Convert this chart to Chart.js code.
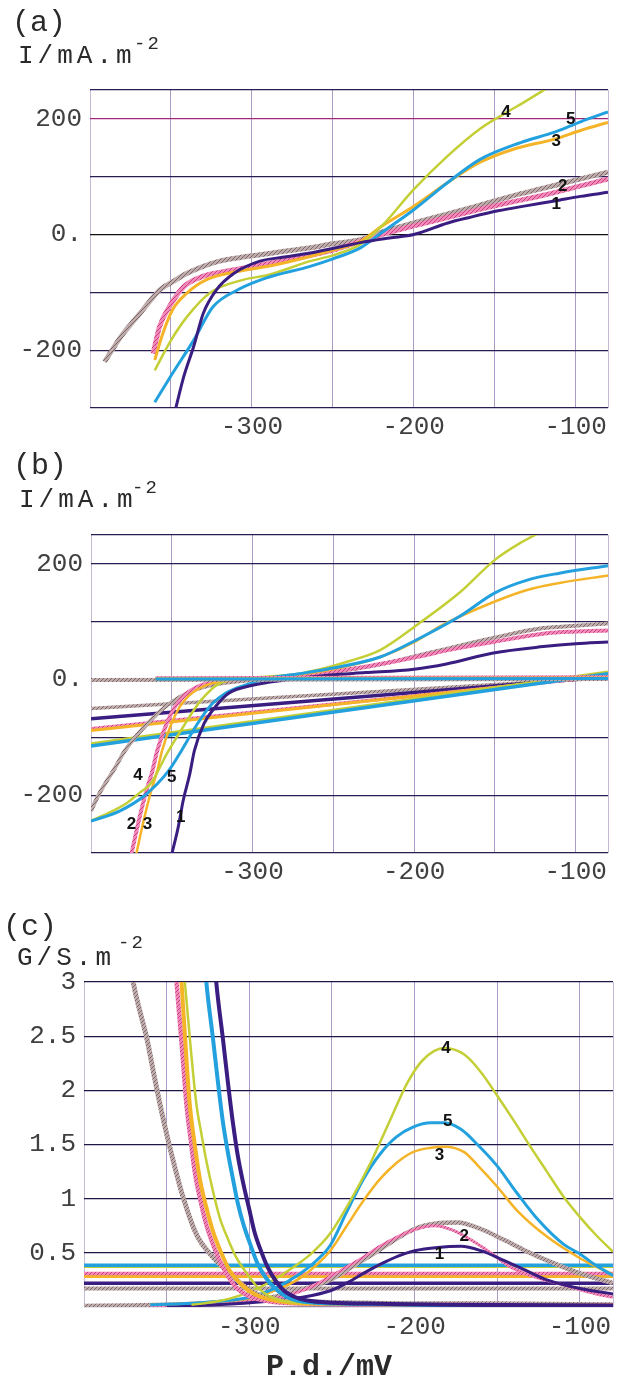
<!DOCTYPE html>
<html>
<head>
<meta charset="utf-8">
<title>Current and conductance vs p.d.</title>
<script src="https://cdn.jsdelivr.net/npm/chart.js@4.4.1/dist/chart.umd.min.js"></script>
<style>
  html, body { margin: 0; padding: 0; background: #fff; }
  body { position: relative; width: 624px; height: 1385px; overflow: hidden;
         font-family: "Liberation Mono", "DejaVu Sans Mono", monospace; color: #2a2a2a; }
  canvas { position: absolute; left: 0; }
  .txt { position: absolute; line-height: 1; white-space: nowrap; }
  .tag { font-size: 30px; }
  .unit { font-size: 26px; letter-spacing: 4px; }
  .sup { font-size: 19px; letter-spacing: 2px; }
  .xname { font-size: 30px; font-weight: bold; }
</style>
</head>
<body>
<canvas id="cha" width="624" height="450" style="top:0"></canvas>
<canvas id="chb" width="624" height="450" style="top:450px"></canvas>
<canvas id="chc" width="624" height="485" style="top:900px"></canvas>

<div class="txt tag" style="left:12px;top:8px">(a)</div>
<div class="txt unit" style="left:18px;top:43px">I/mA.m</div>
<div class="txt sup" style="left:134px;top:35px">-2</div>

<div class="txt tag" style="left:13px;top:451px">(b)</div>
<div class="txt unit" style="left:19px;top:487px">I/mA.m</div>
<div class="txt sup" style="left:132px;top:479px">-2</div>

<div class="txt tag" style="left:3px;top:912px">(c)</div>
<div class="txt unit" style="left:17px;top:945px">G/S.m</div>
<div class="txt sup" style="left:118px;top:934px">-2</div>

<div class="txt xname" style="left:266px;top:1352px">P.d./mV</div>

<script>
// axis ticks
const xTicks = [-400, -350, -300, -250, -200, -150, -100, -80];
const xTickText = ['', '', '-300', '', '-200', '', '-100', ''];
const iTicks = [-300, -200, -100, 0, 100, 200, 250];
const iTickText = ['', '-200', '', '0.', '', '200', ''];
const gTicks = [0, 0.5, 1, 1.5, 2, 2.5, 3];
const gTickText = ['', '0.5', '1', '1.5', '2', '2.5', '3'];

// (a) current, curves 1-5 and the grey reference
const aX1 = [-347, -342, -336, -330, -322, -311, -295, -280, -264, -250, -233, -215, -200, -179, -165, -148, -130, -113, -97, -80];
const aY1 = [-300, -245, -194, -136, -96, -67, -46, -39, -32, -24, -14, -6, 0, 20, 30, 41, 50, 58, 66, 73];
const aX2 = [-361, -357, -351, -342, -330, -311, -295, -280, -264, -250, -233, -220, -200, -180, -160, -140, -120, -100, -80];
const aY2 = [-206, -159, -125, -90, -72, -61, -53, -45, -36, -27, -12, 0, 15, 29, 43, 56, 68, 82, 96];
const aXg = [-391, -386, -381, -375, -369, -363, -357, -348, -340, -330, -320, -308, -295, -280, -264, -250, -233, -220, -200, -180, -160, -140, -120, -100, -80];
const aYg = [-220, -198, -177, -156, -136, -115, -96, -80, -67, -55, -46, -40, -35, -29, -23, -16, -9, 4, 20, 35, 50, 66, 80, 94, 108];
const aX3 = [-360, -355, -349, -340, -328, -309, -290, -264, -250, -233, -220, -200, -179, -159, -138, -113, -97, -80];
const aY3 = [-217, -171, -130, -101, -78, -64, -55, -38, -27, -12, 14, 49, 90, 125, 148, 165, 180, 194];
const aX4 = [-360, -350, -340, -326, -305, -290, -264, -250, -233, -220, -200, -179, -159, -144, -130, -116];
const aY4 = [-235, -183, -142, -101, -78, -70, -46, -36, -17, 14, 78, 136, 183, 209, 232, 256];
const aX5 = [-360, -349, -336, -324, -309, -291, -264, -250, -233, -220, -200, -179, -159, -134, -113, -97, -80];
const aY5 = [-290, -240, -183, -125, -96, -75, -55, -42, -23, 3, 43, 90, 130, 159, 177, 195, 212];

// (b) current components
const bX1 = [-350, -346, -343, -339, -336, -330, -323, -315, -300, -280, -252, -230, -200, -180, -151, -120, -100, -80];
const bY1 = [-302, -255, -210, -165, -123, -76, -47, -24, -10, -1, 8, 12, 18, 27, 46, 57, 62, 65];
const bX2 = [-375, -370, -366, -362, -359, -354, -348, -342, -332, -320, -300, -280, -252, -230, -200, -175, -151, -118, -100, -80];
const bY2 = [-302, -239, -195, -158, -123, -82, -47, -27, -10, -3, 1, 4, 13, 22, 38, 53, 65, 80, 83, 85];
const bXg = [-400, -395, -385, -379, -367, -354, -345, -335, -320, -300, -271, -252, -234, -215, -200, -180, -151, -120, -100, -80];
const bYg = [-227, -198, -152, -123, -82, -47, -30, -17, -7, -1, 4, 12, 20, 30, 40, 53, 72, 89, 93, 97];
const bX3 = [-372, -367, -363, -359, -356, -351, -345, -339, -329, -317, -300, -280, -252, -221, -199, -184, -150, -130, -110, -80];
const bY3 = [-302, -239, -195, -158, -123, -82, -47, -27, -10, -3, 2, 6, 17, 39, 66, 92, 135, 155, 167, 180];
const bX4 = [-400, -390, -378, -370, -363, -353, -343, -332, -320, -300, -271, -252, -240, -221, -197, -172, -150, -135, -121];
const bY4 = [-244, -232, -214, -196, -180, -128, -82, -36, -6, 3, 10, 22, 32, 51, 97, 150, 207, 235, 256];
const bX5 = [-400, -382, -367, -352, -344, -334, -325, -317, -305, -290, -271, -252, -221, -199, -172, -150, -130, -110, -80];
const bY5 = [-245, -227, -201, -158, -123, -76, -42, -24, -10, 2, 10, 19, 39, 68, 109, 150, 172, 184, 197];
// straight components, values at the two ends
const bLineX = [-400, -80];
const bSlope1 = [-68, 5], bSlope2 = [-85, 6], bSlopeG = [-50, 3];
const bSlope3 = [-88, 7], bSlope4 = [-111, 13], bSlope5 = [-115, 10];
const bFlatX = [-360, -80], bFlatXg = [-400, -80];
const bFlat1 = [1, 2], bFlat2 = [3, 5], bFlatG = [-1, 1];
const bFlat3 = [2, 3], bFlat4 = [1, 2], bFlat5 = [1, 2];

// (c) conductance: steep branch, bell, constant level
const cSX1 = [-321, -320, -316, -313, -310, -307, -303.5, -300, -297, -293, -289, -284, -279, -272, -265, -250, -220, -180, -80];
const cSY1 = [3.2, 3.0, 2.48, 2.08, 1.71, 1.40, 1.13, 0.90, 0.70, 0.52, 0.37, 0.24, 0.15, 0.09, 0.06, 0.04, 0.03, 0.02, 0.015];
const cSX2 = [-345, -344, -342, -340, -338, -335.5, -333, -329.5, -326, -322, -318, -313, -308, -300, -291, -280, -260, -230, -200, -150, -80];
const cSY2 = [3.2, 3.0, 2.63, 2.25, 1.87, 1.55, 1.25, 0.98, 0.76, 0.58, 0.43, 0.29, 0.18, 0.10, 0.06, 0.04, 0.03, 0.025, 0.02, 0.018, 0.016];
const cSXg = [-372, -370, -366, -362, -358, -354, -348, -340, -332, -322, -314, -302, -289, -270, -240, -200, -150, -80];
const cSYg = [3.2, 2.98, 2.72, 2.48, 2.17, 1.87, 1.47, 1.01, 0.67, 0.46, 0.34, 0.18, 0.08, 0.05, 0.04, 0.03, 0.03, 0.02];
const cSX3 = [-342, -341, -338.5, -336, -333, -330, -326, -322, -317, -312, -305, -297, -288, -275, -250, -200, -80];
const cSY3 = [3.2, 3.0, 2.4, 1.87, 1.5, 1.19, 0.92, 0.70, 0.50, 0.34, 0.21, 0.12, 0.07, 0.04, 0.03, 0.02, 0.015];
const cSX4 = [-340, -339, -335.5, -332, -329, -326, -322, -318, -313, -308, -301, -295, -288, -281, -270, -250, -200, -80];
const cSY4 = [3.2, 3.0, 2.4, 1.87, 1.6, 1.35, 1.07, 0.83, 0.63, 0.46, 0.30, 0.18, 0.10, 0.06, 0.04, 0.03, 0.02, 0.012];
const cSX5 = [-327, -326, -322, -319, -316, -313, -310, -307, -303.5, -299, -295, -290, -285, -278, -271, -260, -240, -200, -150, -80];
const cSY5 = [3.2, 3.0, 2.48, 2.08, 1.71, 1.43, 1.19, 0.96, 0.76, 0.56, 0.40, 0.27, 0.18, 0.10, 0.06, 0.04, 0.03, 0.02, 0.015, 0.01];

const cBX1 = [-350, -320, -290, -268, -251, -240, -231, -220, -210, -200, -186, -172, -160, -146, -133, -120, -100, -80];
const cBY1 = [0.005, 0.02, 0.05, 0.09, 0.15, 0.23, 0.31, 0.40, 0.47, 0.52, 0.55, 0.56, 0.52, 0.43, 0.34, 0.25, 0.17, 0.12];
const cBX2 = [-360, -320, -300, -281, -265, -251, -241, -231, -221, -210, -199, -188, -177, -166, -154, -142, -128, -114, -100, -90, -80];
const cBY2 = [0.01, 0.03, 0.05, 0.09, 0.17, 0.28, 0.37, 0.46, 0.56, 0.65, 0.72, 0.75, 0.71, 0.62, 0.50, 0.37, 0.28, 0.22, 0.16, 0.12, 0.09];
const cBXg = [-400, -370, -340, -310, -290, -275, -262, -251, -238, -225, -212, -200, -187, -174, -160, -146, -133, -120, -100, -80];
const cBYg = [0.01, 0.015, 0.025, 0.05, 0.08, 0.13, 0.19, 0.25, 0.37, 0.49, 0.62, 0.72, 0.77, 0.78, 0.72, 0.62, 0.52, 0.43, 0.31, 0.22];
const cBX3 = [-360, -330, -300, -285, -270, -260, -251, -241, -231, -221, -211, -201, -190, -182, -170, -162, -150, -138, -120, -100, -90, -80];
const cBY3 = [0.02, 0.04, 0.08, 0.15, 0.26, 0.38, 0.52, 0.75, 0.98, 1.18, 1.33, 1.43, 1.47, 1.48, 1.43, 1.31, 1.11, 0.89, 0.65, 0.45, 0.37, 0.30];
const cBX4 = [-335, -320, -305, -290, -275, -262, -251, -240, -227, -215, -204, -195, -182, -170, -160, -150, -140, -130, -120, -110, -100, -90, -80];
const cBY4 = [0.02, 0.05, 0.11, 0.21, 0.35, 0.5, 0.68, 0.95, 1.32, 1.72, 2.08, 2.28, 2.39, 2.33, 2.17, 1.95, 1.72, 1.48, 1.25, 1.02, 0.83, 0.66, 0.51];
const cBX5 = [-360, -330, -300, -285, -270, -260, -251, -241, -231, -221, -211, -201, -190, -182, -172, -162, -150, -138, -125, -110, -100, -90, -80];
const cBY5 = [0.02, 0.04, 0.09, 0.17, 0.3, 0.42, 0.57, 0.88, 1.18, 1.41, 1.57, 1.66, 1.70, 1.70, 1.64, 1.5, 1.30, 1.05, 0.80, 0.58, 0.49, 0.38, 0.29];
const cLineX = [-400, -80];
const cLevel1 = [0.22, 0.22], cLevel2 = [0.31, 0.31], cLevelG = [0.17, 0.17];
const cLevel3 = [0.285, 0.285], cLevel4 = [0.375, 0.375], cLevel5 = [0.385, 0.385];

// curve numbers: [text, p.d., value]
const aTags = [['4', -143, 212], ['5', -103, 200], ['3', -112, 162], ['2', -108, 84], ['1', -112, 52]];
const bTags = [['4', -371, -166], ['5', -350, -169], ['2', -375, -250], ['3', -365, -250], ['1', -344.5, -239]];
const cTags = [['4', -181, 2.39], ['5', -180, 1.71], ['3', -185, 1.40], ['2', -170, 0.65], ['1', -185, 0.49]];

const NAVY = '#3a1d80', ORANGE = '#f5b428', YELLOW = '#c3cf35', BLUE = '#22a1de';

// striped look of the thick grey and pink traces
function hatch(base, stripe) {
  const c = document.createElement('canvas');
  c.width = 4; c.height = 4;
  const g = c.getContext('2d');
  g.fillStyle = base; g.fillRect(0, 0, 4, 4);
  g.fillStyle = stripe;
  for (let i = 0; i < 4; i++) g.fillRect(i, 3 - i, 1, 1);
  return g.createPattern(c, 'repeat');
}
const GRAY = hatch('#bfadad', '#7c6666');
const PINK = hatch('#ee8bb9', '#d23a82');

function pts(xs, ys) { return xs.map((x, i) => ({x: x, y: ys[i]})); }
function line(xs, ys, color, width) {
  return {data: pts(xs, ys), borderColor: color, borderWidth: width,
          pointRadius: 0, fill: false, cubicInterpolationMode: 'monotone'};
}

const tagPlugin = {
  id: 'tags',
  afterDatasetsDraw(chart, args, opts) {
    const {ctx, scales: {x, y}} = chart;
    ctx.save();
    ctx.font = 'bold 17px "Liberation Sans", Arial, sans-serif';
    ctx.fillStyle = '#111';
    ctx.textAlign = 'center';
    ctx.textBaseline = 'middle';
    opts.items.forEach(t => ctx.fillText(t[0], x.getPixelForValue(t[1]), y.getPixelForValue(t[2])));
    ctx.restore();
  }
};

const tickFont = {family: '"Liberation Mono", monospace', size: 26};

function panel(id, sets, tags, o) {
  return new Chart(document.getElementById(id), {
    type: 'line',
    data: {datasets: sets},
    options: {
      responsive: false,
      animation: false,
      devicePixelRatio: 1,
      layout: {padding: {top: o.top, right: o.right, left: 0, bottom: 0}},
      plugins: {legend: {display: false}, tooltip: {enabled: false}, tags: {items: tags}},
      scales: {
        x: {
          type: 'linear', min: -400, max: -80,
          afterBuildTicks: s => { s.ticks = xTicks.map(v => ({value: v})); },
          afterFit: s => { s.height = o.xh; },
          border: {display: false},
          grid: {drawTicks: false, lineWidth: 1,
                 color: c => (c.tick.value === -400 || c.tick.value === -80) ? '#c6bad6' : '#ab9cc6'},
          ticks: {autoSkip: false, maxRotation: 0, padding: o.xpad, color: '#404040', font: tickFont,
                  callback: (v, i) => xTickText[i]}
        },
        y: {
          type: 'linear', min: o.ticks[0], max: o.ticks[o.ticks.length - 1],
          afterBuildTicks: s => { s.ticks = o.ticks.map(v => ({value: v})); },
          afterFit: s => { s.width = o.left; },
          border: {display: false},
          grid: {drawTicks: false, lineWidth: 1.3, color: c => o.gridColor(c.tick.value)},
          ticks: {autoSkip: false, padding: 8, color: '#404040', font: tickFont,
                  callback: (v, i) => o.text[i]}
        }
      }
    },
    plugins: [tagPlugin]
  });
}

panel('cha', [
  line(aX1, aY1, NAVY, 3),
  line(aX5, aY5, BLUE, 3),
  line(aX4, aY4, YELLOW, 2.5),
  line(aX3, aY3, ORANGE, 3),
  line(aX2, aY2, PINK, 5),
  line(aXg, aYg, GRAY, 5)
], aTags, {top: 90, right: 16, left: 90, xh: 42, xpad: 4, ticks: iTicks, text: iTickText,
  gridColor: v => v === 200 ? '#a3287a' : (v === 0 ? '#111' : '#2a1c52')});

panel('chb', [
  line(bFlatX, bFlat5, BLUE, 3),
  line(bFlatX, bFlat4, YELLOW, 2.5),
  line(bFlatX, bFlat3, ORANGE, 2.5),
  line(bFlatX, bFlat2, PINK, 3),
  line(bFlatX, bFlat1, NAVY, 2.5),
  line(bFlatXg, bFlatG, GRAY, 4),
  line(bX1, bY1, NAVY, 3),
  line(bX5, bY5, BLUE, 3),
  line(bX4, bY4, YELLOW, 2.5),
  line(bX3, bY3, ORANGE, 2.5),
  line(bX2, bY2, PINK, 4),
  line(bXg, bYg, GRAY, 4),
  line(bLineX, bSlope5, BLUE, 3.5),
  line(bLineX, bSlope4, YELLOW, 3),
  line(bLineX, bSlope3, ORANGE, 3),
  line(bLineX, bSlope2, PINK, 3.5),
  line(bLineX, bSlope1, NAVY, 3.5),
  line(bLineX, bSlopeG, GRAY, 3.5)
], bTags, {top: 85, right: 16, left: 91, xh: 47, xpad: 4, ticks: iTicks, text: iTickText,
  gridColor: v => v === 0 ? '#111' : '#2a1c52'});

panel('chc', [
  line(cSX1, cSY1, NAVY, 4),
  line(cSX5, cSY5, BLUE, 4),
  line(cSX4, cSY4, YELLOW, 2.5),
  line(cSX3, cSY3, ORANGE, 4),
  line(cSX2, cSY2, PINK, 4.5),
  line(cSXg, cSYg, GRAY, 5),
  line(cBX4, cBY4, YELLOW, 2.5),
  line(cBX5, cBY5, BLUE, 3),
  line(cBX3, cBY3, ORANGE, 2.5),
  line(cBX1, cBY1, NAVY, 3),
  line(cBX2, cBY2, PINK, 3),
  line(cBXg, cBYg, GRAY, 4.5),
  line(cLineX, cLevel5, BLUE, 3.5),
  line(cLineX, cLevel4, YELLOW, 3),
  line(cLineX, cLevel2, PINK, 3.5),
  line(cLineX, cLevel3, ORANGE, 3.5),
  line(cLineX, cLevel1, NAVY, 3.5),
  line(cLineX, cLevelG, GRAY, 4)
], cTags, {top: 82, right: 11, left: 84, xh: 78, xpad: 5, ticks: gTicks, text: gTickText,
  gridColor: v => v === 0 ? '#9a8aa8' : '#1f1646'});
</script>
</body>
</html>
